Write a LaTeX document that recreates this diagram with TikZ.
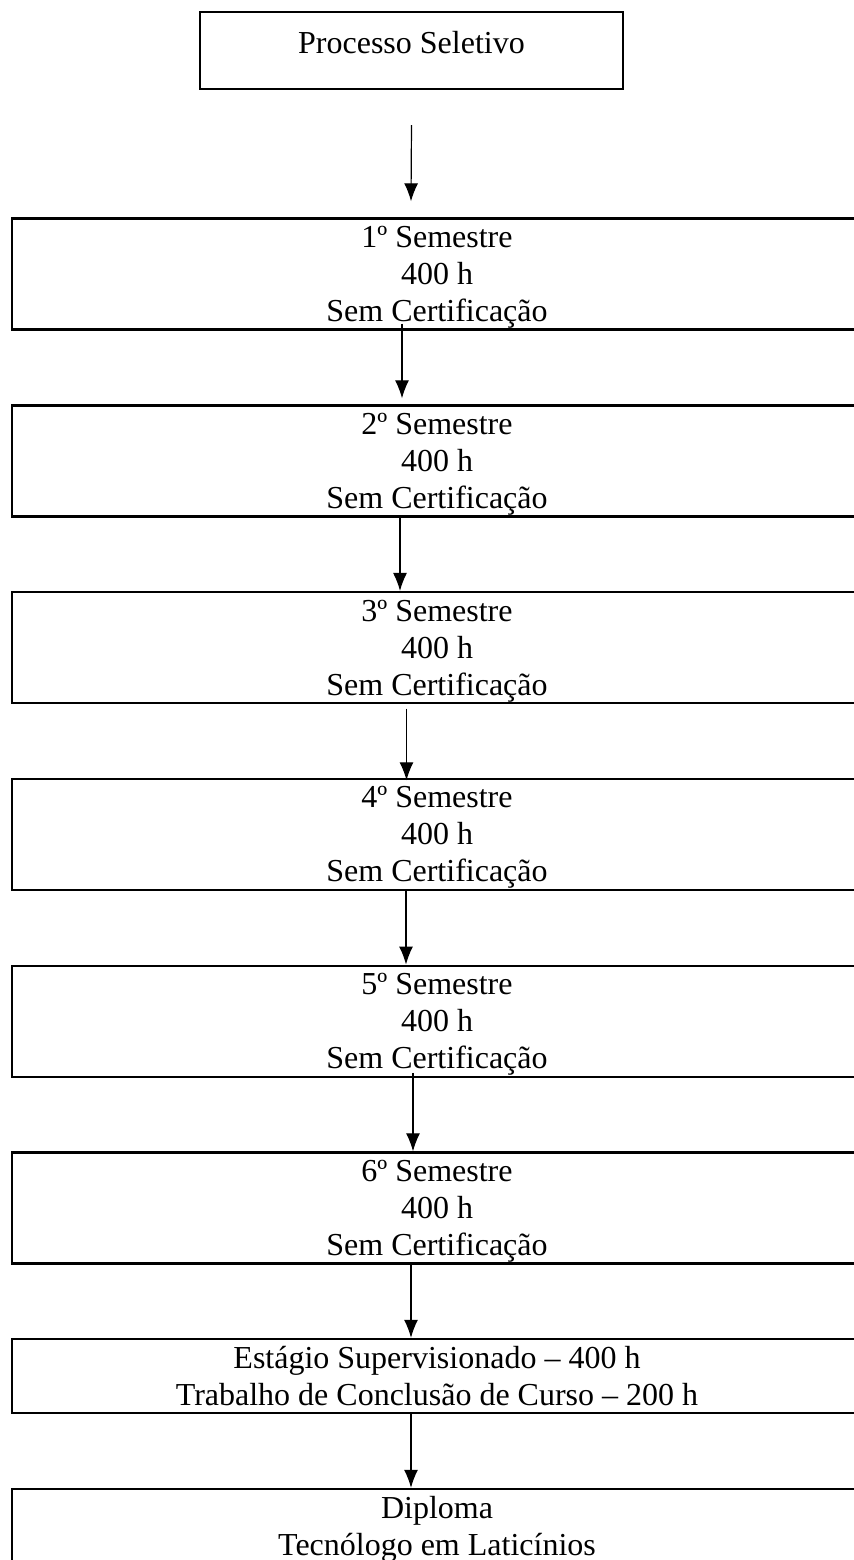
\documentclass[tikz,border=0pt]{standalone}
\usepackage{fontspec}
\setmainfont{Liberation Serif}
\usepackage{tikz}
\usetikzlibrary{arrows.meta}
\tikzset{>={Latex[length=9pt,width=7pt]}}
\newcommand{\ls}{\rule[-4pt]{0pt}{18.5pt}}

\begin{document}
\begin{tikzpicture}[x=0.5pt, y=-0.5pt]
	% P = processo, s1..s6 = semestres, E = estagio, D = diploma
	\tikzstyle{every node}=[draw=black, line width=1.2pt, inner ysep=0pt, font=\fontsize{16pt}{18.5pt}\selectfont]
	\tikzstyle{every edge}=[black, ->, line width=0.6pt, draw]
	\tikzstyle{caixa}=[minimum width=425pt, align=center]
	\useasboundingbox (0,0) rectangle (853,1560);

	\node[minimum width=211.5pt, text height=20.5pt, text depth=18pt] (P) at (411.5,50.5) {Processo Seletivo};
	\node[caixa] (s1) at (437,274) {\ls 1º Semestre\\400 h\\Sem Certificação\ls};
	\draw ([yshift=-17.5pt]P.south) edge ([xshift=-13pt,yshift=8pt]s1.north);

	\node[caixa, node distance=93.4pt] (s2) [below of = s1] {\ls 2º Semestre\\400 h\\Sem Certificação\ls};
	\draw ([xshift=-17.5pt,yshift=3.5pt]s1.south) edge ([xshift=-17.5pt,yshift=2.9pt]s2.north);
	\node[caixa, node distance=93.4pt] (s3) [below of = s2] {\ls 3º Semestre\\400 h\\Sem Certificação\ls};
	\draw ([xshift=-18.5pt]s2.south) edge ([xshift=-18.5pt]s3.north);
	\node[caixa, node distance=93.4pt] (s4) [below of = s3] {\ls 4º Semestre\\400 h\\Sem Certificação\ls};
	\draw ([xshift=-15.25pt,yshift=-2.2pt]s3.south) edge ([xshift=-15.25pt,yshift=-1.3pt]s4.north);
	\node[caixa, node distance=93.4pt] (s5) [below of = s4] {\ls 5º Semestre\\400 h\\Sem Certificação\ls};
	\draw ([xshift=-15.5pt]s4.south) edge ([xshift=-15.5pt]s5.north);
	\node[caixa, node distance=93.4pt] (s6) [below of = s5] {\ls 6º Semestre\\400 h\\Sem Certificação\ls};
	\draw ([xshift=-12pt,yshift=2.5pt]s5.south) edge ([xshift=-12pt]s6.north);

	\node[caixa, node distance=84pt] (E) [below of = s6] {\ls Estágio Supervisionado -- 400 h\\Trabalho de Conclusão de Curso -- 200 h\ls};
	\draw ([xshift=-13pt]s6.south) edge ([xshift=-13pt]E.north);
	\node[caixa, node distance=75pt] (D) [below of = E] {\ls Diploma\\Tecnólogo em Laticínios\ls};
	\draw ([xshift=-13pt]E.south) edge ([xshift=-13pt]D.north);
\end{tikzpicture}
\end{document}
